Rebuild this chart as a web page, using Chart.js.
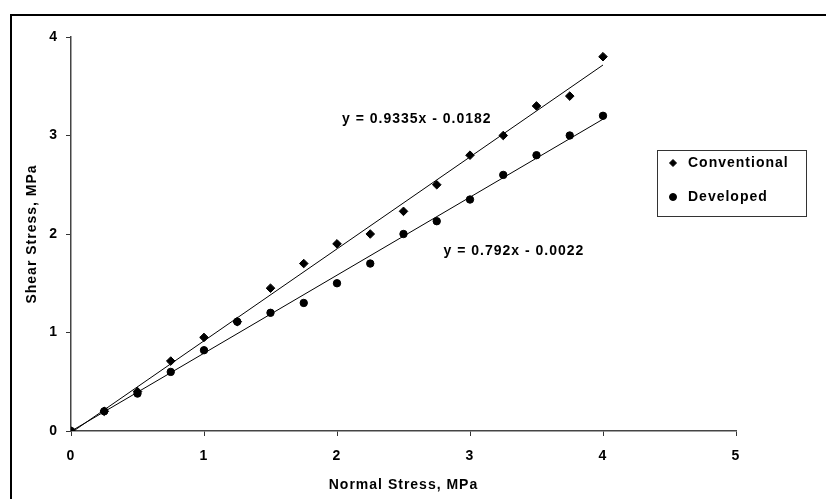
<!DOCTYPE html>
<html>
<head>
<meta charset="utf-8">
<script src="https://cdn.jsdelivr.net/npm/chart.js@4/dist/chart.umd.min.js"></script>
<style>
  html, body { margin: 0; padding: 0; background: #fff; }
  #wrap { width: 826px; height: 499px; }
</style>
</head>
<body>
<div id="wrap"><canvas id="shearChart" width="826" height="499"></canvas></div>
<script>
// values
const normalStress = [0, 0.25, 0.5, 0.75, 1, 1.25, 1.5, 1.75, 2, 2.25, 2.5, 2.75, 3, 3.25, 3.5, 3.75, 4];
const conventional = [0, 0.2, 0.4, 0.71, 0.95, 1.11, 1.45, 1.7, 1.9, 2.0, 2.23, 2.5, 2.8, 3.0, 3.3, 3.4, 3.8];
const developed = [0, 0.2, 0.38, 0.6, 0.82, 1.11, 1.2, 1.3, 1.5, 1.7, 2.0, 2.13, 2.35, 2.6, 2.8, 3.0, 3.2];

const seriesNames = ['Conventional', 'Developed'];
const trendSlopes = [0.9335, 0.792];
const trendIntercepts = [-0.0182, -0.0022];
const trendLabels = ['y = 0.9335x - 0.0182', 'y = 0.792x - 0.0022'];
const trendLabelAt = [[2.6, 3.17], [3.33, 1.83]];
const trendRange = [0, 4];

const xTicks = [0, 1, 2, 3, 4, 5];
const yTicks = [0, 1, 2, 3, 4];

const FONT = '"Liberation Sans", Arial, sans-serif';

function pts(xs, ys) {
  return xs.map((x, i) => ({ x: x, y: ys[i] }));
}

function trendPts(i) {
  return trendRange.map(x => ({ x: x, y: trendSlopes[i] * x + trendIntercepts[i] }));
}

// frame, equations and legend box
const extras = {
  id: 'extras',
  beforeDraw(chart) {
    chart.ctx.letterSpacing = '1px';
  },
  afterDraw(chart) {
    const ctx = chart.ctx;
    const xs = chart.scales.x, ys = chart.scales.y;
    ctx.save();
    ctx.letterSpacing = '1px';
    ctx.strokeStyle = '#000';
    ctx.lineWidth = 2;
    ctx.strokeRect(11, 15, 840, 520);

    ctx.fillStyle = '#000';
    ctx.font = 'bold 14px ' + FONT;
    ctx.textAlign = 'center';
    ctx.textBaseline = 'middle';
    trendLabels.forEach((t, i) => {
      ctx.fillText(t, xs.getPixelForValue(trendLabelAt[i][0]), ys.getPixelForValue(trendLabelAt[i][1]));
    });

    // legend
    const lx = 657, ly = 150, lw = 149, lh = 66;
    ctx.fillStyle = '#fff';
    ctx.fillRect(lx, ly, lw, lh);
    ctx.strokeStyle = '#333';
    ctx.lineWidth = 1;
    ctx.strokeRect(lx + 0.5, ly + 0.5, lw, lh);
    const styles = ['rectRot', 'circle'];
    const rows = [163, 197];
    ctx.textAlign = 'left';
    seriesNames.forEach((n, i) => {
      ctx.fillStyle = '#000';
      ctx.strokeStyle = '#000';
      Chart.helpers.drawPoint(ctx, { pointStyle: styles[i], radius: 3.5, borderWidth: 1 }, 673, rows[i]);
      ctx.fillStyle = '#000';
      ctx.fillText(n, 688, rows[i]);
    });
    ctx.restore();
  }
};

new Chart(document.getElementById('shearChart'), {
  type: 'scatter',
  data: {
    datasets: [
      {
        label: seriesNames[0],
        data: pts(normalStress, conventional),
        pointStyle: 'rectRot',
        pointRadius: 4.3,
        backgroundColor: '#000',
        borderColor: '#000',
        borderWidth: 1
      },
      {
        label: seriesNames[1],
        data: pts(normalStress, developed),
        pointStyle: 'circle',
        pointRadius: 3.7,
        backgroundColor: '#000',
        borderColor: '#000',
        borderWidth: 1
      },
      {
        label: 'trend1',
        type: 'line',
        data: trendPts(0),
        borderColor: '#000',
        borderWidth: 1,
        pointRadius: 0,
        fill: false
      },
      {
        label: 'trend2',
        type: 'line',
        data: trendPts(1),
        borderColor: '#000',
        borderWidth: 1,
        pointRadius: 0,
        fill: false
      }
    ]
  },
  options: {
    responsive: false,
    devicePixelRatio: 1,
    animation: false,
    layout: { padding: { left: 0, top: 37, right: 90, bottom: 0 } },
    plugins: {
      legend: { display: false },
      tooltip: { enabled: false }
    },
    scales: {
      x: {
        type: 'linear',
        min: 0,
        max: 5,
        afterFit(s) { s.height = 68; },
        afterBuildTicks(s) { s.ticks = xTicks.map(v => ({ value: v })); },
        grid: { drawOnChartArea: false, drawTicks: true, tickLength: 5, color: '#333' },
        border: { color: '#444', width: 1.5 },
        ticks: { color: '#000', padding: 12, font: { family: FONT, size: 14, weight: 'bold' } },
        title: {
          display: true,
          text: 'Normal Stress, MPa',
          color: '#000',
          padding: { bottom: 5 },
          font: { family: FONT, size: 14, weight: 'bold' }
        }
      },
      y: {
        type: 'linear',
        min: 0,
        max: 4,
        afterFit(s) { s.width = 71; },
        afterBuildTicks(s) { s.ticks = yTicks.map(v => ({ value: v })); },
        grid: { drawOnChartArea: false, drawTicks: true, tickLength: 5, color: '#333' },
        border: { color: '#444', width: 1.5 },
        ticks: { color: '#000', padding: 8, font: { family: FONT, size: 14, weight: 'bold' } },
        title: {
          display: true,
          text: 'Shear Stress, MPa',
          color: '#000',
          padding: { top: 24 },
          font: { family: FONT, size: 14, weight: 'bold' }
        }
      }
    }
  },
  plugins: [extras]
});
</script>
</body>
</html>
